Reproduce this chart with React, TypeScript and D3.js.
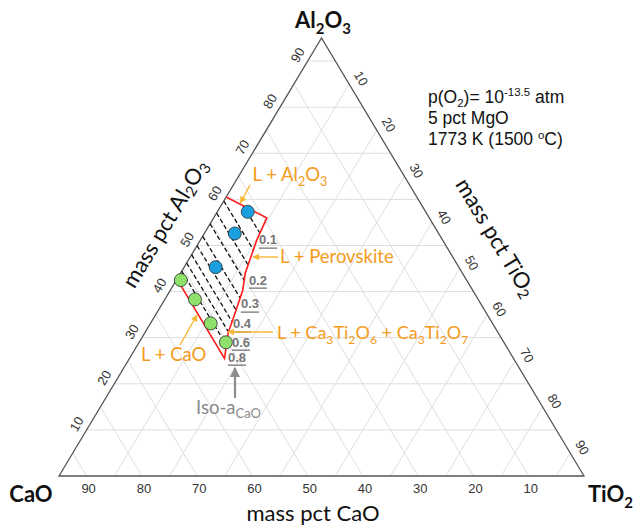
import React from "react";
import * as d3 from "d3";

// CaO + Al2O3 + TiO2 sum to 95 mass pct (MgO fixed at 5 pct)
const TOTAL = 95;
const gridValues = [10, 20, 30, 40, 50, 60, 70, 80, 90];

// Compositions are [Al2O3, TiO2] in mass pct; CaO is the balance.
const liquidBoundary: [number, number][] = [
  [60.5, 0], [56.0, 9.6], [51.2, 10.2], [46.85, 11.1], [44.0, 11.7],
  [40.3, 13.1], [35.3, 14.2], [31.0, 15.1], [25.5, 17.2], [42.7, 0],
];
const blueSamples: [number, number][] = [[57.3, 5.5], [52.6, 5.5], [45.3, 5.7]];
const greenSamples: [number, number][] = [[42.5, 0.8], [38.3, 5.45], [33.1, 10.9], [29.0, 15.7]];

const isoStarts: [number, number][] = [
  [58.6, 4.05], [59.65, 0], [57.04, 0], [54.68, 0], [51.99, 0],
  [49.97, 0], [48.0, 0], [46.2, 0], [44.42, 0],
];
const isoEnds: [number, number][] = [
  [52.71, 9.98], [49.02, 10.67], [45.76, 11.34], [42.51, 12.24], [38.61, 13.47],
  [36.0, 14.04], [33.5, 14.55], [31.3, 15.0], [28.41, 16.08],
];
const isoActivity = ["0.1", "0.2", "0.3", "0.4", "0.6", "0.8"];
const isoLabelAt: [number, number][] = [
  [51.19, 12.23], [42.51, 14.75], [37.31, 15.91], [32.97, 16.63], [29.06, 18.4], [25.81, 19.3],
];

const yA = d3.scaleLinear().domain([0, TOTAL]).range([476, 38]);
const xA = d3.scaleLinear().domain([0, TOTAL]).range([59, 321.5]);
const xT = d3.scaleLinear().domain([0, TOTAL]).range([0, 525]);
const proj = (a: number, t: number): [number, number] => [xA(a) + xT(t), yA(a)];

const line = d3.line<[number, number]>().x((d) => proj(d[0], d[1])[0]).y((d) => proj(d[0], d[1])[1]);

const SANS = "Lato, 'Open Sans', sans-serif";
const ARIAL = "'Liberation Sans', Arial, sans-serif";
const ORANGE = "#F59B1C";
const ARROW = "#F8B735";

function Formula({ text, size }: { text: string; size: number }) {
  const parts = text.match(/(\d+|[^\d]+)/g) || [];
  let low = false;
  return (
    <>
      {parts.map((p, i) => {
        const sub = /^\d+$/.test(p);
        let dy: number | undefined;
        if (sub && !low) { dy = size * 0.28; low = true; }
        else if (!sub && low) { dy = -size * 0.28; low = false; }
        return (
          <tspan key={i} dy={dy} fontSize={sub ? size * 0.68 : size}>{p}</tspan>
        );
      })}
    </>
  );
}

export default function App() {
  const L = proj(0, 0), R = proj(0, TOTAL), A = proj(TOTAL, 0);
  const grid: [[number, number], [number, number]][] = [];
  gridValues.forEach((v) => {
    grid.push([proj(v, 0), proj(v, TOTAL - v)]);           // Al2O3
    grid.push([proj(TOTAL - v, 0), proj(0, TOTAL - v)]);   // CaO
    grid.push([proj(TOTAL - v, v), proj(0, v)]);           // TiO2
  });

  return (
    <svg width={634} height={527} style={{ display: "block", position: "absolute", left: 0, top: 0 }}>
      <defs>
        <marker id="ah-o" viewBox="0 0 10 10" refX="9" refY="5" markerWidth="7" markerHeight="7" orient="auto-start-reverse" markerUnits="userSpaceOnUse">
          <path d="M0,0 L10,5 L0,10 z" fill={ARROW} />
        </marker>
        <marker id="ah-g" viewBox="0 0 10 10" refX="9" refY="5" markerWidth="10" markerHeight="10" orient="auto-start-reverse" markerUnits="userSpaceOnUse">
          <path d="M0,0 L10,5 L0,10 z" fill="#8c8c8c" />
        </marker>
      </defs>
      <rect width={634} height={527} fill="#fff" />

      {/* grid */}
      {grid.map(([p, q], i) => (
        <line key={i} x1={p[0]} y1={p[1]} x2={q[0]} y2={q[1]} stroke="#dedede" strokeWidth={1} />
      ))}

      {/* frame */}
      <path d={`M${L[0]},${L[1]}L${R[0]},${R[1]}L${A[0]},${A[1]}Z`} fill="none" stroke="#555" strokeWidth={1.3} />

      {/* tick labels */}
      <g fontFamily={ARIAL} fontSize={13} fill="#333">
        {gridValues.map((v) => {
          const [x, y] = proj(v, 0);
          return (
            <text key={"a" + v} transform={`translate(${x - 10},${y - 6}) rotate(-60)`} textAnchor="middle" dominantBaseline="central">{v}</text>
          );
        })}
        {gridValues.map((v) => {
          const [x, y] = proj(TOTAL - v, v);
          return (
            <text key={"t" + v} transform={`translate(${x + 12},${y - 5.5}) rotate(60)`} textAnchor="middle" dominantBaseline="central">{v}</text>
          );
        })}
        {gridValues.map((v) => {
          const [x, y] = proj(0, TOTAL - v);
          return (
            <text key={"c" + v} x={x + 2} y={y + 17} textAnchor="middle">{v}</text>
          );
        })}
      </g>

      {/* iso-activity lines */}
      {isoStarts.map((s, i) => (
        <path key={i} d={line([s, isoEnds[i]]) || ""} stroke="#111" strokeWidth={1.3} strokeDasharray="4.5,2.5" fill="none" />
      ))}

      {/* liquid boundary */}
      <path d={line(liquidBoundary) || ""} fill="none" stroke="#ff1a1a" strokeWidth={1.6} />

      {/* samples */}
      {blueSamples.map((d, i) => {
        const [x, y] = proj(d[0], d[1]);
        return <circle key={i} cx={x} cy={y} r={6.5} fill="#1A9FE0" stroke="#2b2b2b" strokeWidth={0.8} />;
      })}
      {greenSamples.map((d, i) => {
        const [x, y] = proj(d[0], d[1]);
        return <circle key={i} cx={x} cy={y} r={6.5} fill="#8EE26C" stroke="#2b2b2b" strokeWidth={0.8} />;
      })}

      {/* activity labels */}
      <g fontFamily={ARIAL} fontSize={13} fontWeight="bold" fill="#777">
        {isoActivity.map((v, i) => {
          const [x, y] = proj(isoLabelAt[i][0], isoLabelAt[i][1]);
          return <text key={v} x={x} y={y} textAnchor="middle" dominantBaseline="central" textDecoration="underline">{v}</text>;
        })}
      </g>

      {/* phase field annotations */}
      <g fontFamily={SANS} fontSize={18.5} fill={ORANGE}>
        <text x={290} y={181} textAnchor="middle"><Formula text="L + Al2O3" size={18.5} /></text>
        <text x={280} y={263}>L + Perovskite</text>
        <text x={277} y={339}><Formula text="L + Ca3Ti2O6 + Ca3Ti2O7" size={18} /></text>
        <text x={141} y={361}>L + CaO</text>
      </g>
      <g stroke={ARROW} strokeWidth={1.4} fill="none">
        <line x1={250} y1={185} x2={240.5} y2={203} markerEnd="url(#ah-o)" />
        <line x1={278} y1={257} x2={253} y2={257} markerEnd="url(#ah-o)" />
        <line x1={273} y1={332} x2={228} y2={332} markerEnd="url(#ah-o)" />
        <line x1={180} y1={345} x2={197} y2={315} markerEnd="url(#ah-o)" />
      </g>

      <line x1={235} y1={398} x2={235} y2={368} stroke="#8c8c8c" strokeWidth={2.2} markerEnd="url(#ah-g)" />
      <text x={196} y={414} fontFamily={SANS} fontSize={18.5} fill="#8a8a8a">
        Iso-a<tspan dy={4} fontSize={13}>CaO</tspan>
      </text>

      {/* conditions */}
      <g fontFamily={ARIAL} fontSize={17.5} fill="#111">
        <text x={428} y={103}>
          p(O<tspan dy={3.5} fontSize={11.5}>2</tspan><tspan dy={-3.5}>)= 10</tspan><tspan dy={-7} fontSize={11.5}>-13.5</tspan><tspan dy={7}> atm</tspan>
        </text>
        <text x={428} y={124}>5 pct MgO</text>
        <text x={428} y={145}>
          1773 K (1500 <tspan dy={-6} fontSize={11.5}>o</tspan><tspan dy={6}>C)</tspan>
        </text>
      </g>

      {/* vertex labels */}
      <g fontFamily={SANS} fontWeight="bold" fontSize={22} fill="#111">
        <text x={323} y={28} textAnchor="middle"><Formula text="Al2O3" size={22} /></text>
        <text x={31} y={502} textAnchor="middle">CaO</text>
        <text x={588} y={502}><Formula text="TiO2" size={22} /></text>
      </g>

      {/* axis titles */}
      <g fontFamily={SANS} fontSize={22} fill="#111">
        <text x={313} y={521} textAnchor="middle">mass pct CaO</text>
        <text transform="translate(164,223) rotate(-59)" textAnchor="middle" dominantBaseline="central"><Formula text="mass pct Al2O3" size={22} /></text>
        <text transform="translate(497,237) rotate(59)" textAnchor="middle" dominantBaseline="central"><Formula text="mass pct TiO2" size={22} /></text>
      </g>
    </svg>
  );
}
